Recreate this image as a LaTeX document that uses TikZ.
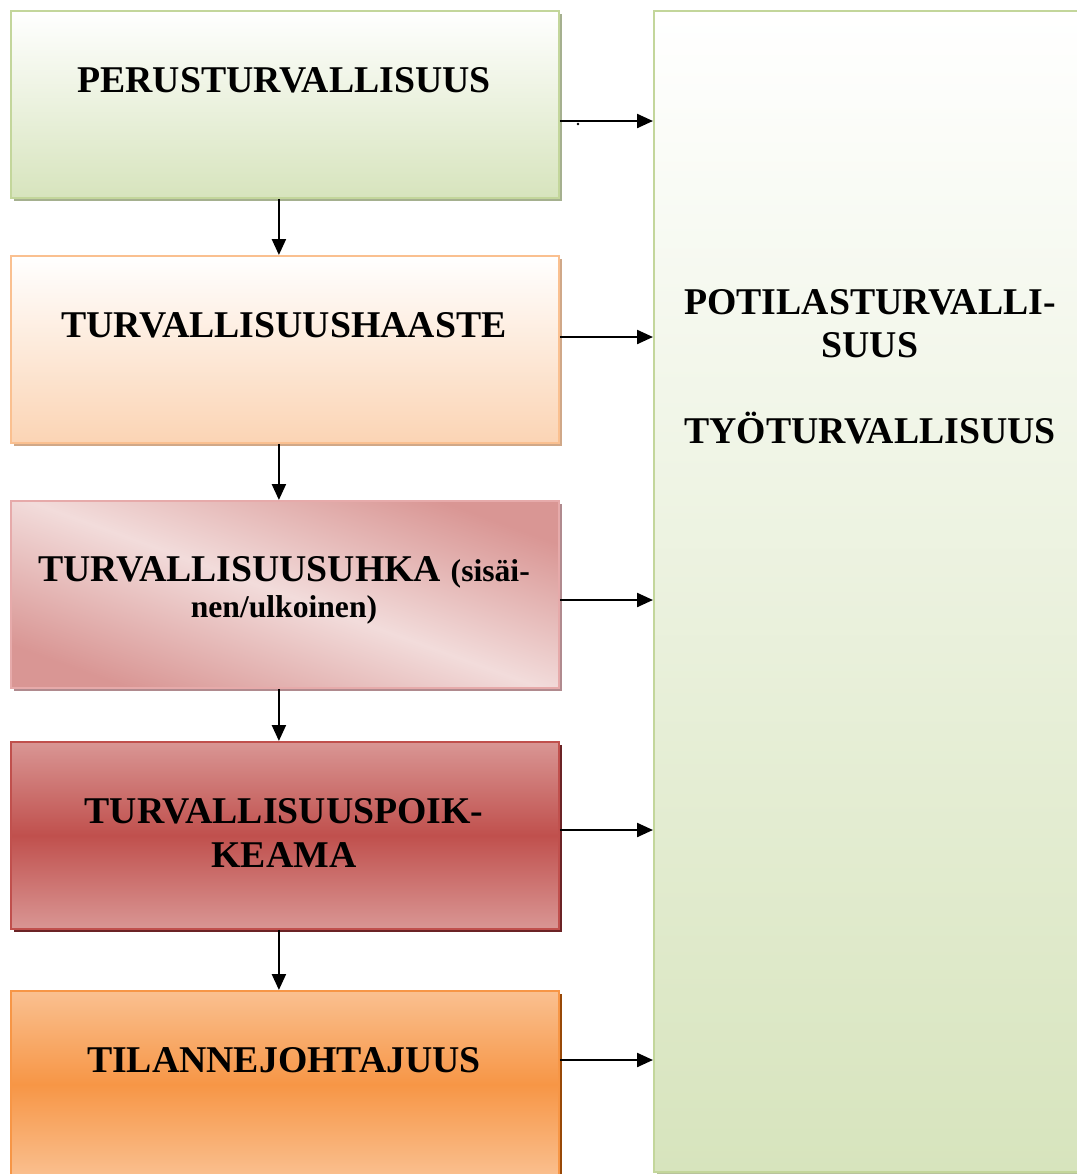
\documentclass[tikz,border=0pt]{standalone}
\usepackage{fontspec}
\setmainfont{Liberation Serif}
\usepackage{tikz}
\usetikzlibrary{arrows.meta,positioning,calc,shadows}
\definecolor{grnlite}{RGB}{215,228,189}
\definecolor{grnline}{RGB}{195,214,155}
\definecolor{grnshad}{RGB}{165,176,143}
\definecolor{peach}{RGB}{251,212,180}
\definecolor{peachline}{RGB}{250,192,144}
\definecolor{peachshad}{RGB}{208,168,136}
\definecolor{rose}{RGB}{217,150,148}
\definecolor{roselite}{RGB}{242,220,219}
\definecolor{roseline}{RGB}{230,170,170}
\definecolor{roseshad}{RGB}{176,138,142}
\definecolor{brick}{RGB}{192,80,77}
\definecolor{brickshad}{RGB}{107,35,37}
\definecolor{orng}{RGB}{247,150,70}
\definecolor{ornglite}{RGB}{250,192,144}
\definecolor{orngshad}{RGB}{152,72,7}
\definecolor{rgtshad}{RGB}{184,196,155}
\tikzset{
  arr/.style={-{Triangle[length=0.32cm, width=0.28cm]}, black, line width=1.3pt},
  stagebox/.style={draw, line width=1.1pt, minimum width=10.96cm, minimum height=3.74cm,
                   anchor=north west, inner sep=0pt},
  shad/.style={drop shadow={fill=#1, opacity=1, shadow xshift=0.06cm, shadow yshift=-0.06cm}},
  lbl/.style={font=\bfseries\fontsize{21.5}{24.5}\selectfont, align=center},
}

\begin{document}
\begin{tikzpicture}[x=0.02cm,y=-0.02cm]
  \useasboundingbox (0,0) rectangle (1077,1174);
  \clip (0,0) rectangle (1077,1174);
  % right column
  \node[stagebox, draw=grnline, top color=white, bottom color=grnlite, shad=rgtshad,
        minimum width=8.68cm, minimum height=23.22cm] (potilas) at (653,10) {};
  % left column, top to bottom
  \node[stagebox, draw=grnline, top color=white, bottom color=grnlite, shad=grnshad] (perus) at (10,10) {};
  \node[stagebox, draw=peachline, top color=white, bottom color=peach, shad=peachshad] (haaste) at (10,255) {};
  \node[stagebox, draw=roseline, top color=rose, bottom color=rose, middle color=roselite,
        shading angle=-20, shad=roseshad] (uhka) at (10,500) {};
  \node[stagebox, draw=brick, top color=rose, bottom color=rose, middle color=brick, shad=brickshad] (poikkeama) at (10,741) {};
  \node[stagebox, draw=orng, top color=ornglite, bottom color=ornglite, middle color=orng, shad=orngshad] (tilanne) at (10,990) {};

  \node[lbl] (t1) at (284,80) {PERUSTURVALLISUUS};
  \node[lbl] (t2) at (284,325) {TURVALLISUUSHAASTE};
  \node[lbl] (t3) at (284,590) {TURVALLISUUSUHKA {\fontsize{18}{21}\selectfont (sisäi-}\\[-4pt]
                               {\fontsize{18}{21}\selectfont nen/ulkoinen)}};
  \node[lbl] (t4) at (284,833) {TURVALLISUUSPOIK-\\KEAMA};
  \node[lbl] (t5) at (284,1060) {TILANNEJOHTAJUUS};
  \node[lbl] (t6) at (870,367) {POTILASTURVALLI-\\SUUS\\[24.5pt]TYÖTURVALLISUUS};

  % flow downwards
  \draw[arr] ([xshift=-0.12cm]perus.south) -- ([xshift=-0.12cm]haaste.north);
  \draw[arr] ([xshift=-0.12cm]haaste.south) -- ([xshift=-0.12cm]uhka.north);
  \draw[arr] ([xshift=-0.12cm]uhka.south) -- ([xshift=-0.12cm]poikkeama.north);
  \draw[arr] ([xshift=-0.12cm]poikkeama.south) -- ([xshift=-0.12cm]tilanne.north);
  % links to the right column
  \draw[arr] (perus.east |- 0,121) -- (potilas.west |- 0,121);
  \draw[arr] (haaste.east |- 0,337) -- (potilas.west |- 0,337);
  \draw[arr] (uhka.east |- 0,600) -- (potilas.west |- 0,600);
  \draw[arr] (poikkeama.east |- 0,830) -- (potilas.west |- 0,830);
  \draw[arr] (tilanne.east |- 0,1060) -- (potilas.west |- 0,1060);
  \fill (578,124) circle (1.3);
\end{tikzpicture}
\end{document}
